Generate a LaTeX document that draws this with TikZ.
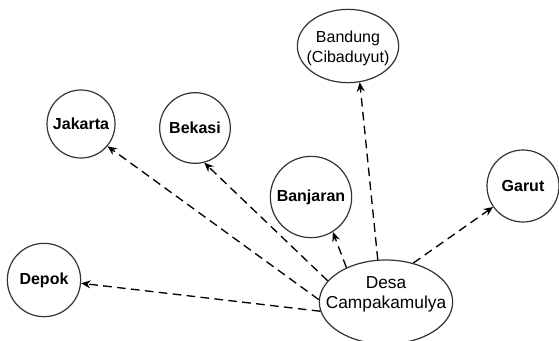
\documentclass[tikz,border=0pt]{standalone}
\usepackage{fontspec}
\setmainfont{Liberation Sans}
\usetikzlibrary{shapes.geometric,arrows.meta}

\tikzset{every picture/.style={line width=0.75pt}}
\tikzset{
  city/.style={draw=black!80, line width=0.9pt, circle, inner sep=0pt, font=\bfseries\fontsize{12}{14}\selectfont},
  place/.style={draw=black!80, line width=0.9pt, ellipse, inner sep=0pt},
  route/.style={dash pattern=on 6.5pt off 4pt, line width=1pt, -{Stealth[length=7pt,width=6pt]}}
}

\begin{document}
\begin{tikzpicture}[x=0.75pt,y=0.75pt,yscale=-1,xscale=1]
%set diagram left start at 0, and has height of 340
\useasboundingbox (0,0) rectangle (559,340);

%Shape: Ellipse [id:bandung]
\node [place, minimum width=76pt, minimum height=55pt, label={[align=center, font=\fontsize{12}{15}\selectfont, yshift=-2pt]center:Bandung\\(Cibaduyut)}] (bandung) at (348,46) {};
%Shape: Circle [id:jakarta]
\node [city, minimum size=51pt] (jakarta) at (81,124) {Jakarta};
%Shape: Circle [id:bekasi]
\node [city, minimum size=53pt] (bekasi) at (195,128) {Bekasi};
%Shape: Circle [id:banjaran]
\node [city, minimum size=61pt] (banjaran) at (311,197) {Banjaran};
%Shape: Circle [id:garut]
\node [city, minimum size=54pt] (garut) at (523,186) {Garut};
%Shape: Circle [id:depok]
\node [city, minimum size=55pt] (depok) at (44,280) {Depok};
%Shape: Ellipse [id:desa]
\node [place, minimum width=100pt, minimum height=63pt, label={[align=center, font=\fontsize{13}{15}\selectfont, yshift=6pt]center:Desa\\Campakamulya}] (desa) at (386,302) {};

%Straight Lines
\draw [route] (desa.188) -- (depok.-5);
\draw [route] (desa.178) -- (jakarta.-40);
\draw [route] (desa.160) -- (bekasi.-75);
\draw [route] (desa.139) -- (banjaran.-58);
\draw [route] (desa.101) -- (bandung.-72);
\draw [route] (desa.55) -- (garut.215);

\end{tikzpicture}
\end{document}
